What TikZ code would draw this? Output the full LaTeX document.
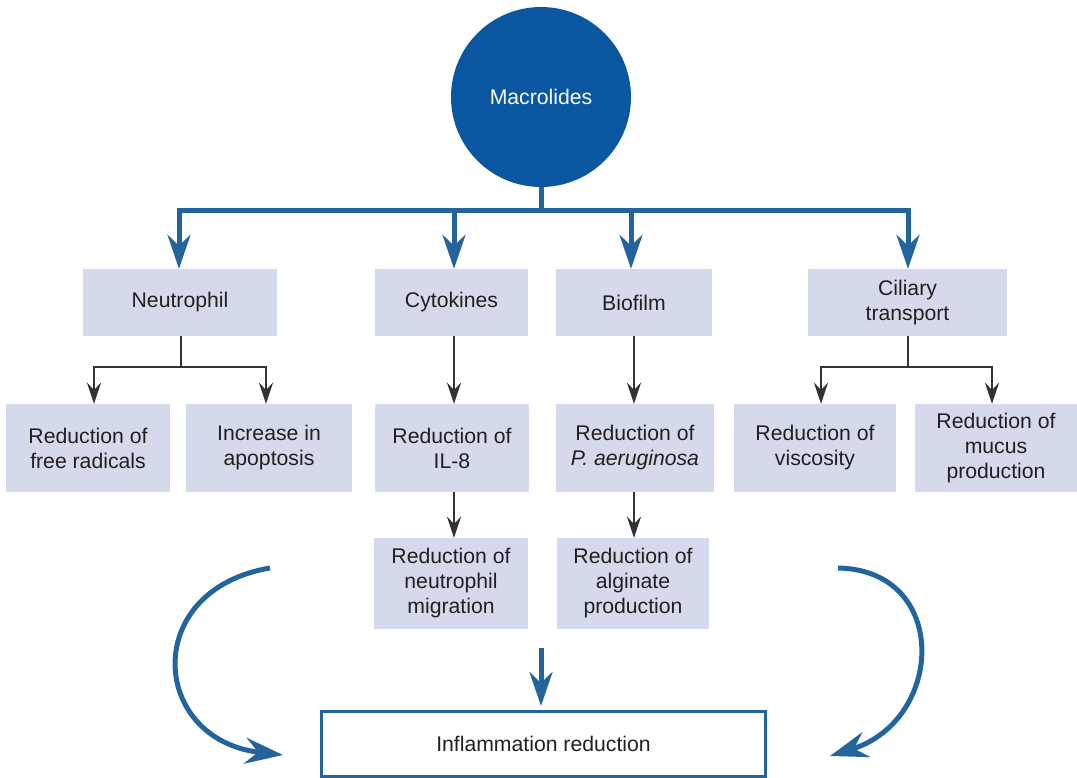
\documentclass[tikz,border=0pt]{standalone}
\usepackage{fontspec}
\setmainfont{Liberation Sans}
\usetikzlibrary{arrows.meta}
\definecolor{circblue}{HTML}{0A56A0}
\definecolor{lineblue}{HTML}{23639E}
\definecolor{boxfill}{HTML}{D4D9EC}
\definecolor{txt}{HTML}{231F20}
\definecolor{dark}{HTML}{333333}
\tikzset{
  box/.style={fill=boxfill, draw=none, align=center, inner sep=2pt, text=txt,
    font=\fontsize{21.2}{25}\selectfont},
  barrow/.style={draw=lineblue, line width=5pt,
    -{Stealth[length=34pt,width=23pt,inset=11pt]}},
  bline/.style={draw=lineblue, line width=5pt},
  carrow/.style={draw=lineblue, line width=5pt,
    -{Stealth[length=38pt,width=26pt,inset=13pt]}},
  darrow/.style={draw=dark, line width=2.5pt,
    -{Stealth[length=21pt,width=14pt,inset=7pt]}},
  dline/.style={draw=dark, line width=2.5pt},
}
\begin{document}
\begin{tikzpicture}[x=1pt,y=-1pt]
\useasboundingbox (0,0) rectangle (1077,778);
% top bus
\coordinate (bus) at (541,211);
\draw[bline] (541,150) -- (bus);
\node[circle, fill=circblue, minimum size=180pt, inner sep=0pt, text=white,
  font=\fontsize{21.2}{25}\selectfont] (mac) at (541,97) {Macrolides};
% level 1
\node[box, minimum width=194pt, minimum height=67pt] (neu) at (180,302.5) {Neutrophil};
\node[box, minimum width=153pt, minimum height=67pt] (cyt) at (451.5,302.5) {Cytokines};
\node[box, minimum width=156pt, minimum height=67pt] (bio) at (634,302.5) {Biofilm};
\node[box, minimum width=199pt, minimum height=67pt] (cil) at (907.5,302.5) {Ciliary\\transport};
% level 2
\node[box, minimum width=164pt, minimum height=88pt] (frr) at (88,448) {Reduction of\\free radicals};
\node[box, minimum width=166pt, minimum height=88pt] (apo) at (269,448) {Increase in\\apoptosis};
\node[box, minimum width=154pt, minimum height=88pt] (il8) at (452,448) {Reduction of\\IL-8};
\node[box, minimum width=158pt, minimum height=88pt] (pae) at (635,448) {Reduction of\\\textit{P. aeruginosa}};
\node[box, minimum width=162pt, minimum height=88pt] (vis) at (815,448) {Reduction of\\viscosity};
\node[box, minimum width=162pt, minimum height=88pt] (muc) at (996,448) {Reduction of\\mucus\\production};
% level 3
\node[box, minimum width=154pt, minimum height=91pt] (mig) at (451,583.5) {Reduction of\\neutrophil\\migration};
\node[box, minimum width=152pt, minimum height=91pt] (alg) at (633,583.5) {Reduction of\\alginate\\production};
% result
\node[draw=lineblue, line width=3pt, fill=white, minimum width=444pt, minimum height=65pt,
  text=txt, font=\fontsize{21.2}{25}\selectfont] (inf) at (543.5,744) {Inflammation reduction};
% blue arrows from bus
\draw[barrow] (bus) -| ([xshift=-1pt]neu.north);
\draw[barrow] (bus) -| ([xshift=2.5pt]cyt.north);
\draw[barrow] (bus) -| ([xshift=-3pt]bio.north);
\draw[barrow] (bus) -| ([xshift=0.5pt]cil.north);
% dark arrows
\coordinate (nj) at (181,367);
\draw[dline] ([xshift=1pt]neu.south) -- (nj);
\draw[darrow] (nj) -| ([xshift=6pt]frr.north);
\draw[darrow] (nj) -| ([xshift=-3pt]apo.north);
\coordinate (cj) at (908,367);
\draw[dline] ([xshift=0.5pt]cil.south) -- (cj);
\draw[darrow] (cj) -| ([xshift=6pt]vis.north);
\draw[darrow] (cj) -| ([xshift=-4pt]muc.north);
\draw[darrow] ([xshift=2.5pt]cyt.south) -- ([xshift=2pt]il8.north);
\draw[darrow] (bio.south) -- ([xshift=-1pt]pae.north);
\draw[darrow] ([xshift=2pt]il8.south) -- ([xshift=3pt]mig.north);
\draw[darrow] ([xshift=-1pt]pae.south) -- ([xshift=1pt]alg.north);
% bottom arrows
\coordinate (ms) at (541,648);
\coordinate (me) at (541,706);
\draw[barrow] (ms) -- (me);
\coordinate (ls) at (270,568);
\coordinate (le) at (283,755);
\draw[carrow] (ls) .. controls (140,590) and (150,740) .. (le);
\coordinate (rs) at (838,568);
\coordinate (re) at (830,756);
\draw[carrow] (rs) .. controls (950,570) and (945,720) .. (re);
\end{tikzpicture}
\end{document}
